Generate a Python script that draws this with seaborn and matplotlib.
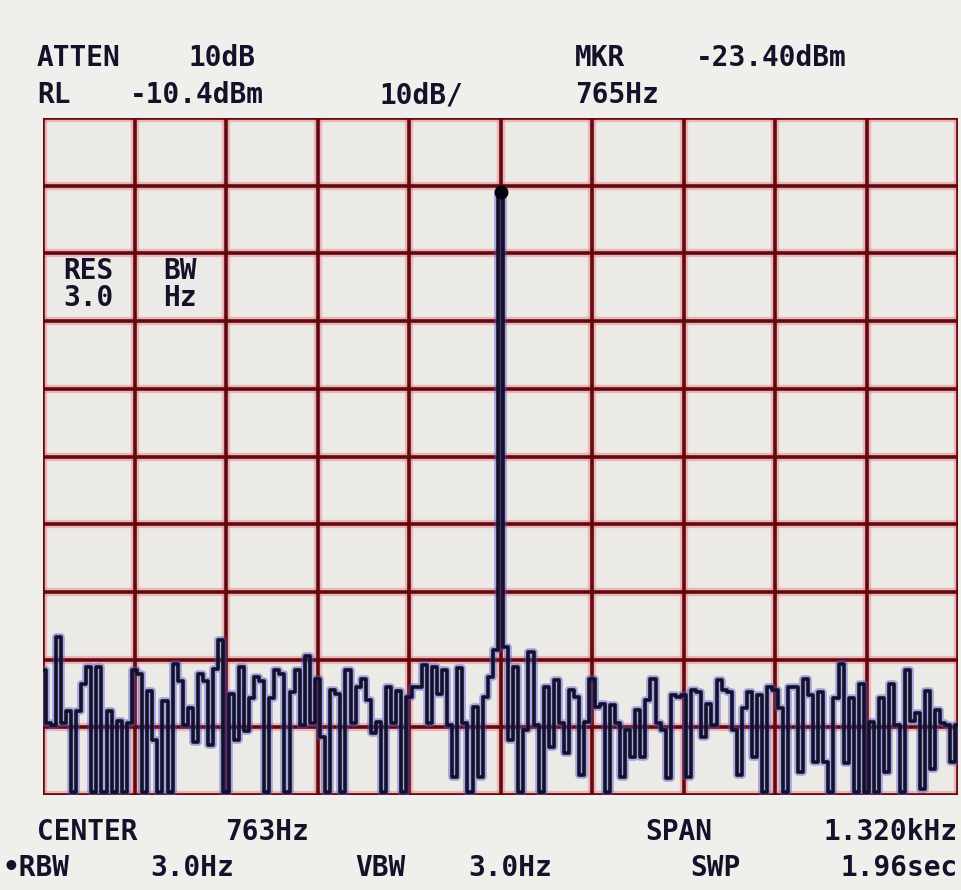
import numpy as np
import pandas as pd
import seaborn as sns
from matplotlib import pyplot as plt

# Analyzer settings (Hz / dBm)
CENTER = 763
SPAN = 1320
REF_LEVEL = -10.4
DB_PER_DIV = 10
N_DIV_X = 10
N_DIV_Y = 10

# Trace, 18 samples per horizontal division, in dBm
div1 = [-92.0, -99.8, -100.0, -87.0, -99.8, -98.0, -110.0, -98.0, -94.0,
        -91.5, -110.0, -91.5, -110.0, -98.0, -110.0, -99.5, -110.0, -99.8]
div2 = [-92.0, -92.5, -110.0, -95.0, -102.3, -110.0, -96.5, -110.0, -91.0,
        -93.5, -100.0, -97.5, -102.5, -92.5, -93.5, -103.0, -91.8, -87.5]
div3 = [-110.0, -95.5, -102.3, -91.5, -101.0, -96.0, -93.0, -93.5, -110.0,
        -96.0, -92.0, -92.5, -110.0, -95.2, -92.0, -100.0, -89.9, -99.8]
div4 = [-93.2, -101.8, -110.0, -94.9, -95.5, -110.0, -92.0, -99.8, -94.4,
        -93.2, -96.4, -101.3, -99.6, -110.0, -94.4, -99.8, -95.0, -110.0]
div5 = [-95.9, -94.4, -94.4, -91.2, -99.8, -91.5, -95.5, -92.0, -100.0,
        -107.7, -91.7, -99.8, -110.0, -97.4, -107.7, -95.9, -93.0, -89.0]
div6 = [-21.3, -88.5, -102.3, -91.5, -110.0, -100.8, -89.3, -100.0, -110.0,
        -94.4, -103.3, -93.4, -99.8, -104.2, -94.9, -95.9, -107.4, -99.6]
div7 = [-93.2, -97.4, -97.0, -110.0, -97.1, -99.8, -107.7, -100.8, -104.8,
        -97.8, -104.8, -96.4, -93.2, -99.8, -100.8, -107.9, -95.6, -95.9]
div8 = [-95.6, -107.7, -94.9, -95.2, -101.8, -97.0, -100.0, -93.4, -94.9,
        -95.2, -100.8, -107.4, -97.5, -95.2, -104.8, -95.6, -110.0, -94.4]
div9 = [-94.9, -97.5, -110.0, -94.4, -94.4, -107.0, -93.2, -95.6, -105.5,
        -95.2, -105.5, -110.0, -96.0, -91.0, -105.7, -96.0, -110.0, -94.0]
div10 = [-110.0, -99.6, -110.0, -96.0, -107.0, -94.0, -100.0, -110.0, -92.0,
         -99.5, -98.3, -109.5, -95.0, -106.5, -97.8, -99.8, -100.0, -105.5]
last_point = [-100.0]

MARKER_FREQ = 763
MARKER_LEVEL = -21.3

top_left = ["ATTEN 10dB", "RL -10.4dBm"]
top_mid = "10dB/"
top_right = ["MKR -23.40dBm", "765Hz"]
bottom_left = ["CENTER 763Hz", "\u2022RBW 3.0Hz"]
bottom_mid = "VBW 3.0Hz"
bottom_right = ["SPAN 1.320kHz", "SWP 1.96sec"]
res_bw = ["RES BW", "3.0 Hz"]

levels = div1 + div2 + div3 + div4 + div5 + div6 + div7 + div8 + div9 + div10 + last_point
f_lo = CENTER - SPAN / 2
f_hi = CENTER + SPAN / 2
freqs = np.linspace(f_lo, f_hi, len(levels))
trace = pd.DataFrame({"freq": freqs, "level": levels})

y_lo = REF_LEVEL - DB_PER_DIV * N_DIV_Y
y_hi = REF_LEVEL

sns.set_style("white")
plt.rcParams["font.family"] = ["DejaVu Sans Mono", "DejaVu Sans"]

BG = "#ebeae6"
GRID = "#5e0a10"
GLOW = "#ee8c92"
INK = "#12122a"

fig = plt.figure(figsize=(9.61, 8.90), dpi=100)
fig.patch.set_facecolor("#f0efeb")
ax = fig.add_axes([43 / 961, 95 / 890, 915 / 961, 677 / 890])
ax.set_facecolor(BG)

# graticule with reddish bleed
xticks = np.linspace(f_lo, f_hi, N_DIV_X + 1)
yticks = np.linspace(y_lo, y_hi, N_DIV_Y + 1)
for xv in xticks:
    ax.axvline(xv, color=GLOW, lw=6, alpha=0.55, zorder=1)
    ax.axvline(xv, color=GRID, lw=2.6, zorder=2)
for yv in yticks:
    ax.axhline(yv, color=GLOW, lw=6, alpha=0.55, zorder=1)
    ax.axhline(yv, color=GRID, lw=2.6, zorder=2)

# trace: blue bleed under a dark line
sns.lineplot(data=trace, x="freq", y="level", ax=ax, color="#5050d0",
             lw=5.5, alpha=0.45, drawstyle="steps-mid", zorder=3)
sns.lineplot(data=trace, x="freq", y="level", ax=ax, color=INK,
             lw=2.6, drawstyle="steps-mid", zorder=4)
ax.plot([MARKER_FREQ], [MARKER_LEVEL], "o", color="#050510", ms=9, zorder=5)

ax.set_xlim(f_lo, f_hi)
ax.set_ylim(y_lo, y_hi)
ax.set_xticks([])
ax.set_yticks([])
ax.set_xlabel("")
ax.set_ylabel("")
for s in ax.spines.values():
    s.set_visible(False)

txt = dict(fontsize=20, fontweight="bold", color=INK, va="center")


def put(label, spots, py):
    # the screen font is very wide, so each word gets its own column
    for word, (px, ha) in zip(label.split(" "), spots):
        fig.text(px / 961, 1 - py / 890, word, ha=ha, **txt)


put(top_left[0], [(37, "left"), (222, "center")], 58)
put(top_left[1], [(37, "left"), (197, "center")], 95)
put(top_mid, [(380, "left")], 95)
put(top_right[0], [(575, "left"), (771, "center")], 58)
put(top_right[1], [(575, "left")], 95)
put(bottom_left[0], [(37, "left"), (267, "center")], 832)
put(bottom_left[1], [(3, "left"), (192, "center")], 868)
put(bottom_mid, [(355, "left"), (510, "center")], 868)
put(bottom_right[0], [(645, "left"), (958, "right")], 832)
put(bottom_right[1], [(690, "left"), (958, "right")], 868)
put(res_bw[0], [(63, "left"), (163, "left")], 271)
put(res_bw[1], [(63, "left"), (163, "left")], 298)

fig.savefig("out.png", dpi=100, facecolor=fig.get_facecolor())
